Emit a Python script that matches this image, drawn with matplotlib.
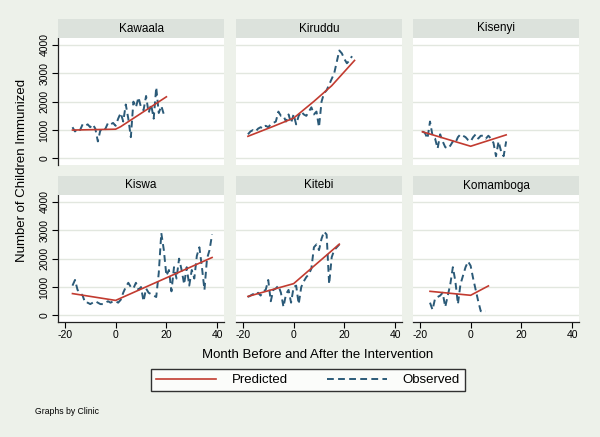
import matplotlib
matplotlib.use("Agg")
import matplotlib.pyplot as plt
from matplotlib.lines import Line2D
from matplotlib.patches import Rectangle

# ---------------- data ----------------
clinics = ["Kawaala", "Kiruddu", "Kisenyi", "Kiswa", "Kitebi", "Komamboga"]

kawaala_month = list(range(-17, 20))
kawaala_obs = [1100, 950, 1050, 1000, 1200, 1150, 1200, 1100, 1200, 1050, 600, 1000, 950,
               1050, 1250, 1200, 1250, 1150, 1400, 1600, 1300, 1900, 1400, 750, 2000, 1800,
               2150, 1800, 1700, 2200, 1600, 1900, 1400, 2500, 1600, 1850, 1550]
kawaala_pred_month = [-17, 0, 2, 20]
kawaala_pred = [1000, 1030, 1120, 2170]

kiruddu_month = list(range(-18, 24))
kiruddu_obs = [850, 950, 1000, 950, 1050, 1100, 1050, 1150, 1100, 1200, 1250, 1300, 1650,
               1500, 1500, 1300, 1550, 1250, 1550, 1200, 1500, 1650, 1550, 1500, 1650, 1800,
               1550, 1650, 1100, 2000, 2300, 2400, 2600, 2800, 3000, 3400, 3800, 3700, 3500,
               3350, 3450, 3600]
kiruddu_pred_month = [-18, -8, 0, 8, 15, 24]
kiruddu_pred = [780, 1130, 1420, 2010, 2560, 3450]

kisenyi_month = list(range(-19, 15))
kisenyi_obs = [950, 900, 700, 1300, 800, 700, 350, 850, 600, 400, 350, 450, 600, 550, 750,
               850, 800, 750, 650, 600, 750, 850, 700, 800, 800, 700, 800, 700, 550, 80, 600,
               250, 80, 600]
kisenyi_pred_month = [-19, 0, 14]
kisenyi_pred = [940, 430, 830]

kiswa_month = list(range(-17, 39))
kiswa_obs = [1050, 1250, 900, 800, 700, 450, 450, 400, 450, 500, 450, 400, 400, 450, 500,
             450, 500, 500, 450, 550, 800, 1000, 1150, 1000, 950, 1150, 900, 1000, 500, 950,
             800, 750, 700, 650, 1500, 2900, 2300, 1400, 1600, 850, 1700, 1300, 2000, 1600,
             1100, 1700, 1050, 1600, 1300, 2100, 2400, 1700, 900, 2000, 2300, 2850]
kiswa_pred_month = [-17, 0, 38]
kiswa_pred = [770, 530, 2040]

kitebi_month = list(range(-18, 19))
kitebi_obs = [650, 700, 750, 700, 800, 700, 850, 900, 1250, 500, 900, 950, 1050, 800, 300,
              750, 900, 450, 1000, 1050, 400, 1000, 1200, 1350, 1450, 1650, 2400, 2500, 2300,
              2700, 2950, 2850, 1100, 2050, 2300, 2400, 2500]
kitebi_pred_month = [-18, 0, 18]
kitebi_pred = [670, 1120, 2510]

komamboga_month = list(range(-16, 7))
komamboga_obs = [450, 200, 600, 650, 700, 800, 300, 700, 1100, 1700, 1200, 400, 1100, 1400,
                 1700, 1900, 1750, 1300, 900, 500, 150, 150, 150]
komamboga_pred_month = [-16, 0, 7]
komamboga_pred = [850, 710, 1040]

obs_months = [kawaala_month, kiruddu_month, kisenyi_month, kiswa_month, kitebi_month, komamboga_month]
obs_values = [kawaala_obs, kiruddu_obs, kisenyi_obs, kiswa_obs, kitebi_obs, komamboga_obs]
pred_months = [kawaala_pred_month, kiruddu_pred_month, kisenyi_pred_month,
               kiswa_pred_month, kitebi_pred_month, komamboga_pred_month]
pred_values = [kawaala_pred, kiruddu_pred, kisenyi_pred, kiswa_pred, kitebi_pred, komamboga_pred]

x_ticks = [-20, 0, 20, 40]
y_ticks = [0, 1000, 2000, 3000, 4000]

# ---------------- style ----------------
BG = "#EDF1EA"
STRIP = "#DCE2DC"
GRID = "#E2E7DF"
RED = "#C23B30"
NAVY = "#2B5A78"

plt.rcParams["font.family"] = ["Liberation Sans", "DejaVu Sans"]
plt.rcParams["axes.unicode_minus"] = False

W, H = 600, 437
fig = plt.figure(figsize=(W / 100, H / 100), dpi=100, facecolor=BG)

col_left = [58, 236, 413]
panel_w = 166
row_top = [38, 195]
panel_h = 127
strip_h = 19


def fx(px):
    return px / W


def fy(py):
    return 1 - py / H


for i, name in enumerate(clinics):
    r, c = divmod(i, 3)
    left, top = col_left[c], row_top[r]
    ax = fig.add_axes([fx(left), fy(top + panel_h), panel_w / W, panel_h / H])
    ax.set_facecolor("white")
    ax.set_xlim(-22.7, 42.7)
    ax.set_ylim(-230, 4240)
    for yv in y_ticks:
        ax.axhline(yv, color=GRID, lw=1.0, zorder=0)
    ax.plot(pred_months[i], pred_values[i], color=RED, lw=1.2, zorder=3)
    ax.plot(obs_months[i], obs_values[i], color=NAVY, lw=1.4, ls=(0, (3.5, 2.2)), zorder=2)

    for s in ax.spines.values():
        s.set_visible(False)
    ax.set_xticks(x_ticks)
    ax.set_yticks(y_ticks)
    if c == 0:
        ax.spines["left"].set_visible(True)
        ax.spines["left"].set_color("#222222")
        ax.spines["left"].set_linewidth(0.9)
        ax.tick_params(axis="y", direction="out", length=4, width=0.8, labelsize=7.5, pad=2)
        for lab in ax.get_yticklabels():
            lab.set_rotation(90)
            lab.set_va("center")
    else:
        ax.tick_params(axis="y", left=False, labelleft=False)
    if r == 1:
        ax.spines["bottom"].set_visible(True)
        ax.spines["bottom"].set_color("#222222")
        ax.spines["bottom"].set_linewidth(0.9)
        ax.tick_params(axis="x", direction="out", length=4, width=0.8, labelsize=7.5, pad=2)
    else:
        ax.tick_params(axis="x", bottom=False, labelbottom=False)

    # strip
    fig.patches.append(Rectangle((fx(left), fy(top)), panel_w / W, strip_h / H,
                                 transform=fig.transFigure, facecolor=STRIP,
                                 edgecolor="none", zorder=0))
    fig.text(fx(left + panel_w / 2), fy(top - strip_h / 2), name,
             ha="center", va="center", fontsize=8.5)

fig.text(fx(22), fy(170), "Number of Children Immunized", rotation=90,
         ha="center", va="center", fontsize=9.5)
fig.text(fx(318), fy(355), "Month Before and After the Intervention",
         ha="center", va="center", fontsize=9.5)

handles = [Line2D([], [], color=RED, lw=1.2),
           Line2D([], [], color=NAVY, lw=1.4, ls=(0, (3.5, 2.2)))]
leg = fig.legend(handles, ["Predicted", "Observed"], ncol=2, loc="center",
                 bbox_to_anchor=(fx(308), fy(380)), fontsize=9.5, frameon=True,
                 fancybox=False, edgecolor="black", facecolor="white",
                 handlelength=4.5, columnspacing=3.0, borderpad=0.4, handletextpad=1.2)
leg.get_frame().set_linewidth(1.0)

fig.text(fx(35), fy(412), "Graphs by Clinic", ha="left", va="center", fontsize=6.2)

fig.savefig("out.png", dpi=100, facecolor=BG)
